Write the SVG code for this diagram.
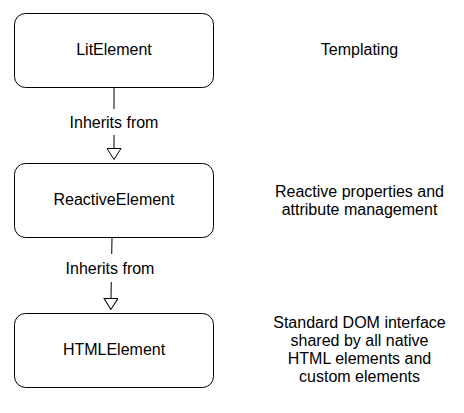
<svg xmlns="http://www.w3.org/2000/svg" width="464" height="413" viewBox="0 0 464 413">
<style>
.box{fill:#fff;stroke:#000;stroke-width:1}
.t{font-family:"Liberation Sans",Arial,sans-serif;font-size:16px;fill:#000;text-anchor:middle}
.edge{fill:none;stroke:#000;stroke-width:1}
.lbl{fill:#fff}
</style>
<defs>
<marker id="open" viewBox="0 0 12 15" refX="0" refY="7.5" markerWidth="12" markerHeight="15" markerUnits="userSpaceOnUse" orient="auto">
<path d="M0.5,0.5 L11.5,7.5 L0.5,14.5 Z" fill="#fff" stroke="#000" stroke-width="1"/>
</marker>
</defs>
<g id="connectors">
<g id="e1">
<path class="edge" d="M114,87.5 L114,148" marker-end="url(#open)"/>
<rect class="lbl" x="68" y="109" width="92" height="26"/>
<text class="t" x="114" y="127.5">Inherits from</text>
</g>
<g id="e2">
<path class="edge" d="M112,237.5 L111,298" marker-end="url(#open)"/>
<rect class="lbl" x="64" y="254" width="92" height="28"/>
<text class="t" x="110" y="274">Inherits from</text>
</g>
</g>
<g id="litelement">
<rect class="box" x="14.5" y="13.5" width="199" height="74" rx="11" ry="11"/>
<text class="t" x="114" y="55">LitElement</text>
</g>
<g id="reactiveelement">
<rect class="box" x="14.5" y="163.5" width="199" height="74" rx="11" ry="11"/>
<text class="t" x="114" y="205">ReactiveElement</text>
</g>
<g id="htmlelement">
<rect class="box" x="14.5" y="313.5" width="199" height="74" rx="11" ry="11"/>
<text class="t" x="114" y="355">HTMLElement</text>
</g>
<g id="desc-templating">
<text class="t" x="359.5" y="55">Templating</text>
</g>
<g id="desc-reactive">
<text class="t" x="359.5" y="197">Reactive properties and</text>
<text class="t" x="359.5" y="215">attribute management</text>
</g>
<g id="desc-dom">
<text class="t" x="359.5" y="328">Standard DOM interface</text>
<text class="t" x="359.5" y="346">shared by all native</text>
<text class="t" x="359.5" y="364">HTML elements and</text>
<text class="t" x="359.5" y="382">custom elements</text>
</g>
</svg>
